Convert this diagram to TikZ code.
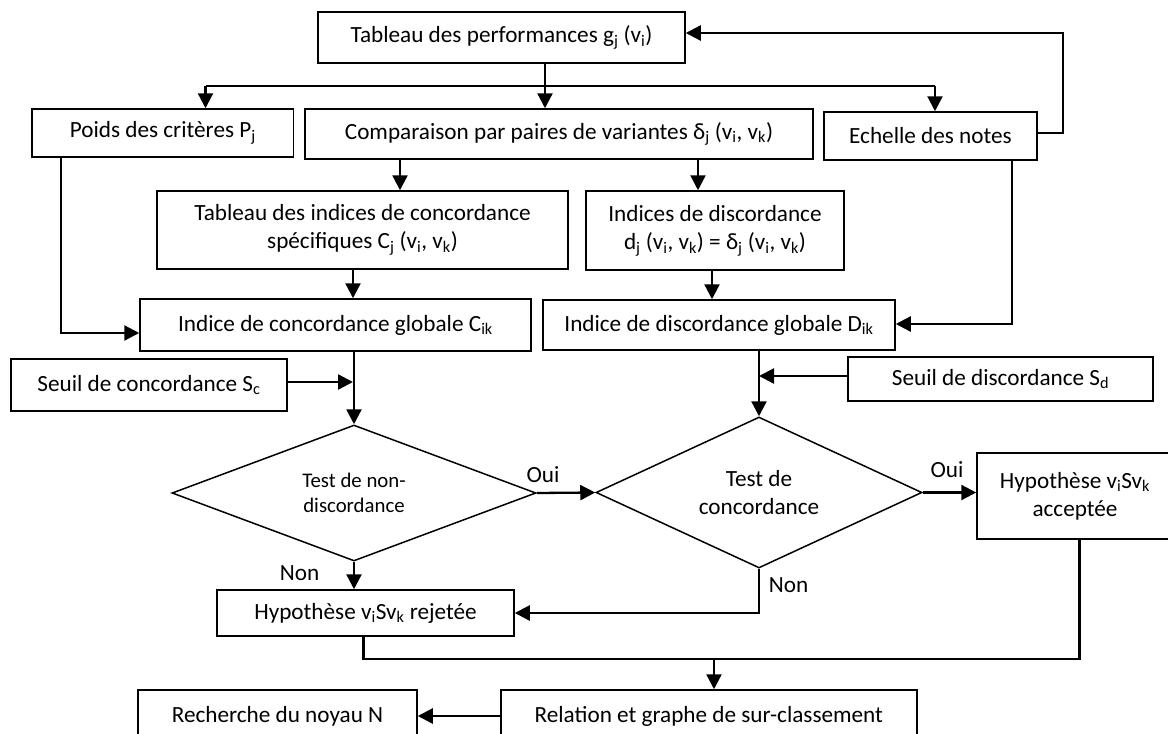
\documentclass[tikz,border=0pt]{standalone}
\usepackage{fontspec}
\setmainfont{Carlito}
\usetikzlibrary{arrows.meta,shapes.geometric}
\newcommand\sbs[1]{\textsubscript{#1}}
\begin{document}
\begin{tikzpicture}[x=1pt,y=-1pt,
  every node/.style={font=\fontsize{23.2}{28.3}\selectfont, inner sep=0pt},
  box/.style={draw, line width=1.5pt, align=center},
  dia/.style={draw, diamond, line width=1.5pt, align=center},
  con/.style={line width=2.3pt},
  arr/.style={line width=2.3pt, -{Triangle[length=15pt,width=15pt]}},
  lbl/.style={}
]
\useasboundingbox[fill=white] (0,0) rectangle (1168,734);

% boxes
\node[box, minimum width=367, minimum height=51] (perf) at (501.5,37.5) {Tableau des performances g\sbs{j} (v\sbs{i})};
\node[box, minimum width=261.5, minimum height=48] (poids) at (162.75,133) {Poids des critères P\sbs{j}};
\node[box, minimum width=508, minimum height=50] (comp) at (559,134) {Comparaison par paires de variantes δ\sbs{j} (v\sbs{i}, v\sbs{k})};
\node[box, minimum width=213, minimum height=48] (echelle) at (930.5,136) {Echelle des notes};
\node[box, minimum width=411, minimum height=78] (tabind) at (362.5,230) {Tableau des indices de concordance\\spécifiques C\sbs{j} (v\sbs{i}, v\sbs{k})};
\node[box, minimum width=258, minimum height=79] (inddisc) at (715,230.5) {Indices de discordance\\d\sbs{j} (v\sbs{i}, v\sbs{k}) = δ\sbs{j} (v\sbs{i}, v\sbs{k})};
\node[box, minimum width=391, minimum height=52] (cglob) at (335.5,325) {Indice de concordance globale C\sbs{ik}};
\node[box, minimum width=352, minimum height=50] (dglob) at (719,325) {Indice de discordance globale D\sbs{ik}};
\node[box, minimum width=276, minimum height=52] (sc) at (149,385) {Seuil de concordance S\sbs{c}};
\node[box, minimum width=305, minimum height=44] (sd) at (1000.5,379) {Seuil de discordance S\sbs{d}};
\node[dia, minimum width=364, minimum height=136, shape aspect=2.68, font=\fontsize{20.8}{24.5}\selectfont] (d1) at (354,493) {Test de non-\\discordance};
\node[dia, minimum width=326, minimum height=151, shape aspect=2.16] (d2) at (759,492.5) {Test de\\concordance};
\node[box, minimum width=297, minimum height=46] (rej) at (365.5,613) {Hypothèse v\sbs{i}Sv\sbs{k} rejetée};
\node[box, minimum width=196, minimum height=86] (acc) at (1075,496) {Hypothèse v\sbs{i}Sv\sbs{k}\\acceptée};
\node[box, minimum width=279, minimum height=52] (rech) at (277.5,716) {Recherche du noyau N};
\node[box, minimum width=416, minimum height=52] (rel) at (708.8,716) {Relation et graphe de sur-classement};

% labels
\node[lbl] (oui1) at (543,475) {Oui};
\node[lbl] (non1) at (299.5,573) {Non};
\node[lbl] (oui2) at (947,470) {Oui};
\node[lbl] (non2) at (788.5,585) {Non};

% routing coordinates
\coordinate (j1) at (545,86);
\coordinate (bl) at (205.5,86);
\coordinate (br) at (935,86);
\coordinate (fb1) at (1063,133);
\coordinate (fb2) at (1063,33);
\coordinate (c400) at (400,0);
\coordinate (c698) at (698,0);
\coordinate (c353) at (353,0);
\coordinate (c712) at (712,0);
\coordinate (pc) at (61,333);
\coordinate (ec) at (1012,324);
\coordinate (s1) at (353,382);
\coordinate (s2) at (759,376);
\coordinate (n2) at (759,613);
\coordinate (m1) at (363.5,659);
\coordinate (m2) at (1079.6,659);
\coordinate (m3) at (714,659);

% connectors
\draw[arr] (perf.south -| j1) -- (comp.north -| j1);
\draw[con] (bl) -- (br);
\draw[arr] (bl) -- (poids.north -| bl);
\draw[arr] (br) -- (echelle.north -| br);
\draw[arr] (echelle.east |- fb1) -- (fb1) -- (fb2) -- (perf.east |- fb2);
\draw[arr] (comp.south -| c400) -- (tabind.north -| c400);
\draw[arr] (comp.south -| c698) -- (inddisc.north -| c698);
\draw[arr] (tabind.south -| c353) -- (cglob.north -| c353);
\draw[arr] (inddisc.south -| c712) -- (dglob.north -| c712);
\draw[arr] (poids.south -| pc) -- (pc) -- (cglob.west |- pc);
\draw[arr] (echelle.south -| ec) -- (ec) -- (dglob.east |- ec);
\draw[arr] (cglob.south -| d1.north) -- (d1.north);
\draw[arr] (sc.east |- s1) -- (s1);
\draw[arr] (dglob.south -| d2.north) -- (d2.north);
\draw[arr] (sd.west |- s2) -- (s2);
\draw[arr] (d1.east) -- (d2.west);
\draw[arr] (d2.east) -- (acc.west |- d2.east);
\draw[arr] (d1.south) -- (rej.north -| d1.south);
\draw[arr] (d2.south) -- (n2) -- (rej.east |- n2);
\draw[con] (rej.south -| m1) -- (m1) -- (m2) -- (acc.south -| m2);
\draw[arr] (m3) -- (rel.north -| m3);
\draw[arr] (rel.west) -- (rech.east);
\end{tikzpicture}
\end{document}
